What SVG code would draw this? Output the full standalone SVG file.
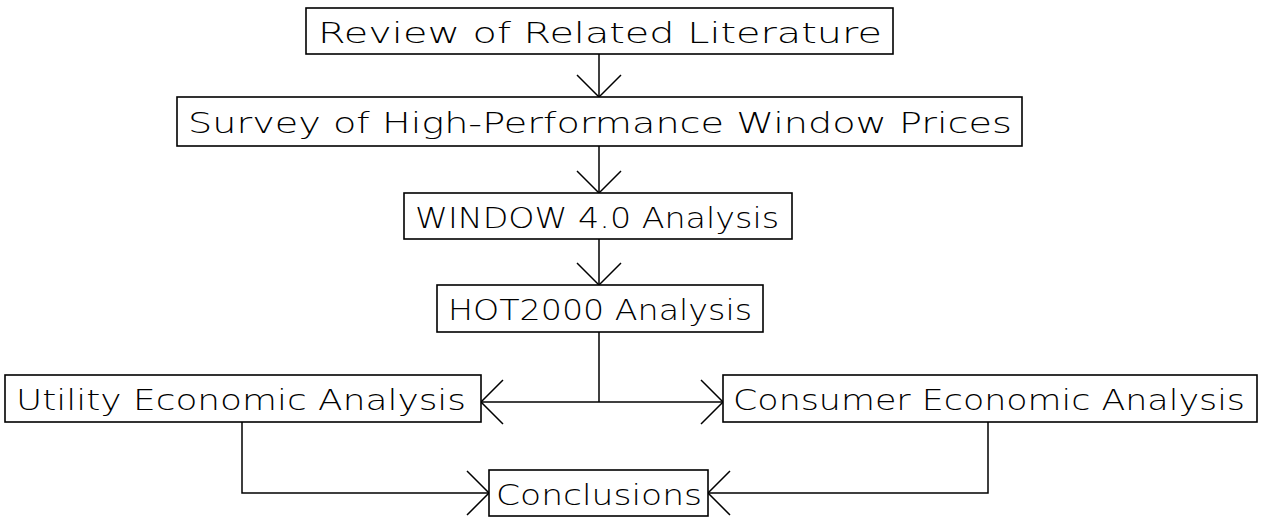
<svg xmlns="http://www.w3.org/2000/svg" width="1265" height="529" viewBox="0 0 1265 529">
  <style>
    .box { fill: #ffffff; stroke: #000000; stroke-width: 1.6; }
    .lbl { font-family: "DejaVu Sans", "Liberation Sans", sans-serif; font-weight: 200; font-size: 29px; fill: #000000; text-anchor: middle; }
    .con { fill: none; stroke: #000000; stroke-width: 1.5; }
  </style>
  <defs>
    <marker id="vee" viewBox="0 0 22 44" refX="22" refY="22" markerWidth="22" markerHeight="44" markerUnits="userSpaceOnUse" orient="auto" overflow="visible">
      <path d="M0,0 L22,22 L0,44" fill="none" stroke="#000000" stroke-width="1.5"/>
    </marker>
  </defs>
  <rect width="1265" height="529" fill="#ffffff"/>

  <g id="connectors">
    <line class="con" x1="599" y1="54" x2="599" y2="97" marker-end="url(#vee)"/>
    <line class="con" x1="599" y1="146" x2="599" y2="193" marker-end="url(#vee)"/>
    <line class="con" x1="599" y1="239" x2="599" y2="285" marker-end="url(#vee)"/>
    <line class="con" x1="599" y1="332" x2="599" y2="402"/>
    <line class="con" x1="599" y1="402" x2="481" y2="402" marker-end="url(#vee)"/>
    <line class="con" x1="599" y1="402" x2="723" y2="402" marker-end="url(#vee)"/>
    <polyline class="con" points="242,422 242,493 489,493" marker-end="url(#vee)"/>
    <polyline class="con" points="988,422 988,493 708,493" marker-end="url(#vee)"/>
  </g>

  <g id="review">
    <rect class="box" x="306" y="8" width="587" height="46"/>
    <text class="lbl" x="600" y="43" textLength="564" lengthAdjust="spacingAndGlyphs">Review of Related Literature</text>
  </g>
  <g id="survey">
    <rect class="box" x="177" y="97" width="845" height="49"/>
    <text class="lbl" x="600" y="133" textLength="824" lengthAdjust="spacingAndGlyphs">Survey of High-Performance Window Prices</text>
  </g>
  <g id="window">
    <rect class="box" x="404" y="193" width="388" height="46"/>
    <text class="lbl" x="597" y="228" textLength="364" lengthAdjust="spacingAndGlyphs">WINDOW 4.0 Analysis</text>
  </g>
  <g id="hot2000">
    <rect class="box" x="437" y="285" width="326" height="47"/>
    <text class="lbl" x="600" y="320" textLength="304" lengthAdjust="spacingAndGlyphs">HOT2000 Analysis</text>
  </g>
  <g id="utility">
    <rect class="box" x="5" y="375" width="476" height="47"/>
    <text class="lbl" x="241" y="410" textLength="450" lengthAdjust="spacingAndGlyphs">Utility Economic Analysis</text>
  </g>
  <g id="consumer">
    <rect class="box" x="723" y="375" width="534" height="47"/>
    <text class="lbl" x="989" y="410" textLength="512" lengthAdjust="spacingAndGlyphs">Consumer Economic Analysis</text>
  </g>
  <g id="conclusions">
    <rect class="box" x="489" y="470" width="219" height="46"/>
    <text class="lbl" x="599" y="505" textLength="206" lengthAdjust="spacingAndGlyphs">Conclusions</text>
  </g>
</svg>
